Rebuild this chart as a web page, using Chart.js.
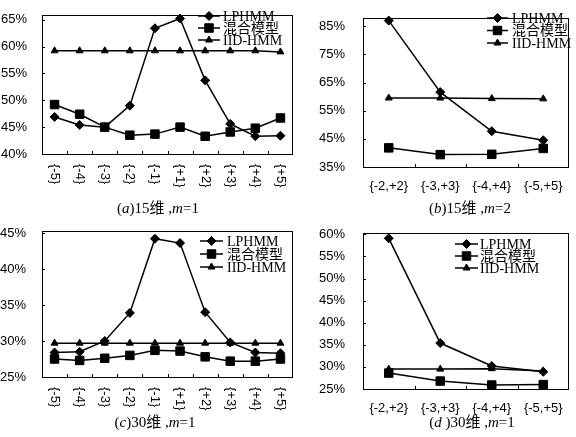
<!DOCTYPE html>
<html>
<head>
<meta charset="utf-8">
<script src="https://cdn.jsdelivr.net/npm/chart.js@4.4.0/dist/chart.umd.min.js"></script>
<style>
  html, body { margin: 0; padding: 0; background: #fff; }
  #fig { position: relative; width: 576px; height: 437px; overflow: hidden; }
  .panel { position: absolute; }
  .cap {
    position: absolute;
    font-family: "Liberation Serif", "Noto Sans CJK SC", serif;
    font-size: 15px;
    color: #000;
    white-space: nowrap;
    transform: translateX(-50%);
  }
</style>
</head>
<body>
<div id="fig">
  <div class="panel" style="left:0;top:0"><canvas id="chartA" width="300" height="215"></canvas></div>
  <div class="panel" style="left:300px;top:0"><canvas id="chartB" width="276" height="215"></canvas></div>
  <div class="panel" style="left:0;top:215px"><canvas id="chartC" width="300" height="222"></canvas></div>
  <div class="panel" style="left:300px;top:215px"><canvas id="chartD" width="276" height="222"></canvas></div>
  <div class="cap" style="left:158px;top:196px">(<i>a</i>)15维 ,<i>m</i>=1</div>
  <div class="cap" style="left:470px;top:196px">(<i>b</i>)15维 ,<i>m</i>=2</div>
  <div class="cap" style="left:155px;top:410px">(<i>c</i>)30维 ,<i>m</i>=1</div>
  <div class="cap" style="left:472px;top:410px">(<i>d</i> )30维 ,<i>m</i>=1</div>
</div>
<script>
const seriesNames = ["LPHMM", "混合模型", "IID-HMM"];
const singleOffsets = ["{-5}", "{-4}", "{-3}", "{-2}", "{-1}", "{+1}", "{+2}", "{+3}", "{+4}", "{+5}"];
const windowRanges = ["{-2,+2}", "{-3,+3}", "{-4,+4}", "{-5,+5}"];

// y tick values (percent)
const yTicksA = [40, 45, 50, 55, 60, 65];
const yTicksB = [35, 45, 55, 65, 75, 85];
const yTicksC = [25, 30, 35, 40, 45];
const yTicksD = [25, 30, 35, 40, 45, 50, 55, 60];

// (a) 15维, m=1
const lphmmA = [46.9, 45.4, 45.0, 49.0, 63.4, 65.2, 53.7, 45.6, 43.3, 43.4];
const mixA = [49.2, 47.4, 45.0, 43.5, 43.7, 45.0, 43.3, 44.1, 44.8, 46.7];
const iidA = [59.2, 59.2, 59.2, 59.2, 59.2, 59.2, 59.2, 59.2, 59.2, 59.0];

// (b) 15维, m=2
const lphmmB = [87.0, 61.6, 47.7, 44.5];
const mixB = [41.8, 39.4, 39.5, 41.6];
const iidB = [59.5, 59.5, 59.3, 59.2];

// (c) 30维, m=1
const lphmmC = [28.4, 28.5, 30.0, 33.9, 44.2, 43.6, 34.0, 29.8, 28.4, 28.3];
const mixC = [27.5, 27.3, 27.6, 28.0, 28.7, 28.6, 27.8, 27.2, 27.2, 27.5];
const iidC = [29.7, 29.7, 29.7, 29.7, 29.7, 29.7, 29.7, 29.7, 29.7, 29.7];

// (d) 30维, m=1
const lphmmD = [59.1, 35.4, 30.2, 28.9];
const mixD = [28.6, 26.8, 25.9, 26.0];
const iidD = [29.5, 29.5, 29.6, 29.1];

const pointStyles = ["rectRot", "rect", "triangle"];
const pointRadii = [4.5, 6, 4];
const tickFont = { family: "'Liberation Sans', Arial, sans-serif", size: 13 };

function drawMarker(ctx, style, x, y, r) {
  ctx.beginPath();
  if (style === "rectRot") {
    ctx.moveTo(x, y - r); ctx.lineTo(x + r, y); ctx.lineTo(x, y + r); ctx.lineTo(x - r, y);
  } else if (style === "rect") {
    const s = r * Math.SQRT1_2;
    ctx.rect(x - s, y - s, 2 * s, 2 * s);
  } else {
    for (let k = 0; k < 3; k++) {
      const a = k * 2 * Math.PI / 3;
      const px = x + Math.sin(a) * r, py = y - Math.cos(a) * r;
      if (k === 0) ctx.moveTo(px, py); else ctx.lineTo(px, py);
    }
  }
  ctx.closePath();
  ctx.fill();
  ctx.stroke();
}

// box, inward tick marks, rotated x labels, legend
const framePlugin = {
  id: "frame",
  afterDraw(chart, args, o) {
    const ctx = chart.ctx, a = chart.chartArea;
    const xs = chart.scales.x, ys = chart.scales.y;
    ctx.save();
    ctx.strokeStyle = "#000";
    ctx.fillStyle = "#000";
    ctx.lineWidth = 1;
    ctx.strokeRect(Math.round(a.left) + 0.5, Math.round(a.top) + 0.5,
      Math.round(a.right - a.left) - 1, Math.round(a.bottom - a.top));

    ctx.beginPath();
    ys.ticks.forEach(t => {
      const py = Math.round(ys.getPixelForValue(t.value)) + 0.5;
      ctx.moveTo(a.left, py); ctx.lineTo(a.left + 3, py);
    });
    const n = chart.data.labels.length;
    const step = n > 1 ? xs.getPixelForValue(1) - xs.getPixelForValue(0) : 0;
    for (let i = 1; i < n; i++) {
      const px = Math.round(xs.getPixelForValue(i) - step / 2) + 0.5;
      ctx.moveTo(px, a.bottom); ctx.lineTo(px, a.bottom - 3);
    }
    ctx.stroke();

    if (o.rotated) {
      ctx.font = "13px 'Liberation Sans', Arial, sans-serif";
      ctx.textAlign = "left";
      ctx.textBaseline = "middle";
      chart.data.labels.forEach((lab, i) => {
        ctx.save();
        ctx.translate(xs.getPixelForValue(i), a.bottom + 10);
        ctx.rotate(Math.PI / 2);
        ctx.fillText(lab, 0, 0);
        ctx.restore();
      });
    }

    const lg = o.legend;
    ctx.font = "14px 'Liberation Serif', 'Noto Sans CJK SC', serif";
    ctx.textAlign = "left";
    ctx.textBaseline = "middle";
    chart.data.datasets.forEach((ds, k) => {
      const y = lg.rows[k];
      ctx.lineWidth = 1.5;
      ctx.beginPath();
      ctx.moveTo(lg.x0, y); ctx.lineTo(lg.x1, y);
      ctx.stroke();
      ctx.lineWidth = 1;
      drawMarker(ctx, ds.pointStyle, (lg.x0 + lg.x1) / 2, y, ds.pointRadius);
      ctx.fillText(ds.label, lg.tx, y + 1);
    });
    ctx.restore();
  }
};

function makeChart(id, labels, values, yTicks, box) {
  return new Chart(document.getElementById(id), {
    type: "line",
    data: {
      labels: labels,
      datasets: seriesNames.map((name, k) => ({
        label: name,
        data: values[k],
        borderColor: "#000",
        backgroundColor: "#000",
        borderWidth: 1.5,
        pointStyle: pointStyles[k],
        pointRadius: pointRadii[k],
        pointBorderWidth: 1,
        tension: 0,
        clip: false
      }))
    },
    options: {
      responsive: false,
      animation: false,
      devicePixelRatio: 1,
      layout: { padding: { top: box.top, right: box.right, left: 0, bottom: 0 } },
      plugins: {
        legend: { display: false },
        tooltip: { enabled: false },
        frame: { rotated: box.rotated, legend: box.legend }
      },
      scales: {
        x: {
          offset: true,
          grid: { display: false },
          border: { display: false },
          ticks: { display: !box.rotated, color: "#000", font: tickFont, padding: box.xPad, maxRotation: 0, autoSkip: false },
          afterFit: s => { s.height = box.xHeight; }
        },
        y: {
          min: yTicks[0],
          max: box.max,
          grid: { display: false },
          border: { display: false },
          afterBuildTicks: s => { s.ticks = yTicks.map(v => ({ value: v })); },
          ticks: {
            autoSkip: false,
            color: "#000",
            font: tickFont,
            padding: box.yPad,
            callback: v => v + "%"
          },
          afterFit: s => { s.width = box.yWidth; }
        }
      }
    },
    plugins: [framePlugin]
  });
}

makeChart("chartA", singleOffsets, [lphmmA, mixA, iidA], yTicksA, {
  max: 65.9, top: 12, right: 3, yWidth: 42, yPad: 7, xHeight: 61, rotated: true,
  legend: { x0: 198, x1: 220, tx: 223, rows: [16, 28, 40] }
});
makeChart("chartB", windowRanges, [lphmmB, mixB, iidB], yTicksB, {
  max: 88, top: 14, right: 1, yWidth: 63, yPad: 10, xHeight: 48, xPad: 4, rotated: false,
  legend: { x0: 187, x1: 208, tx: 212, rows: [18, 30.5, 43] }
});
makeChart("chartC", singleOffsets, [lphmmC, mixC, iidC], yTicksC, {
  max: 45.3, top: 15, right: 3, yWidth: 42, yPad: 8, xHeight: 60, rotated: true,
  legend: { x0: 200, x1: 223, tx: 227, rows: [26, 39, 52] }
});
makeChart("chartD", windowRanges, [lphmmD, mixD, iidD], yTicksD, {
  max: 60.36, top: 17, right: 1, yWidth: 63, yPad: 10, xHeight: 48, xPad: 4, rotated: false,
  legend: { x0: 155, x1: 178, tx: 180, rows: [29, 41, 53] }
});
</script>
</body>
</html>
